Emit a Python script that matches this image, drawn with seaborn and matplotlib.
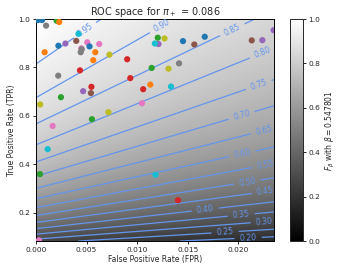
import numpy as np
import pandas as pd
import matplotlib
matplotlib.use("Agg")
import matplotlib.pyplot as plt
import seaborn as sns

# ---- data ----
pi_pos = 0.086
beta = 0.547801
x_max = 0.0235
y_min = 0.082

fpr = [0.0002, 0.0006, 0.00205, 0.0023, 0.0010, 0.00086, 0.00222, 0.00291,
       0.0042, 0.00398, 0.00507, 0.00625, 0.00529, 0.00448, 0.00452, 0.00442,
       0.00586, 0.00566, 0.00726, 0.00435, 0.0022, 0.00247, 0.00042, 0.00466,
       0.00548, 0.00543, 0.00553, 0.00716, 0.00165, 0.00901, 0.00932, 0.01143,
       0.01059, 0.01129, 0.01047, 0.01203, 0.0121, 0.01174, 0.0127, 0.01309,
       0.01334, 0.01452, 0.01564, 0.01413, 0.01667, 0.02131, 0.02236, 0.02347,
       0.00116, 0.0004, 0.0118, 0.01403, 0.0003]
tpr = [0.996, 0.996, 0.993, 0.988, 0.973, 0.863, 0.890, 0.899,
       0.939, 0.910, 0.904, 0.897, 0.887, 0.879, 0.875, 0.863,
       0.863, 0.830, 0.853, 0.788, 0.766, 0.677, 0.647, 0.702,
       0.720, 0.694, 0.586, 0.615, 0.558, 0.834, 0.756, 0.798,
       0.710, 0.729, 0.652, 0.923, 0.897, 0.899, 0.920, 0.795,
       0.721, 0.909, 0.895, 0.817, 0.927, 0.912, 0.913, 0.954,
       0.462, 0.359, 0.356, 0.251, 0.085]
color_idx = [0, 0, 2, 1, 7, 1, 0, 4,
             9, 5, 6, 6, 0, 6, 7, 7,
             1, 1, 8, 3, 7, 2, 8, 4,
             3, 5, 2, 8, 6, 3, 3, 2,
             3, 1, 6, 2, 4, 9, 8, 8,
             9, 0, 5, 7, 0, 5, 4, 4,
             9, 2, 9, 3, 6]
levels = [0.05, 0.10, 0.15, 0.20, 0.25, 0.30, 0.35, 0.40, 0.45, 0.50,
          0.55, 0.60, 0.65, 0.70, 0.75, 0.80, 0.85, 0.90, 0.95]

# label anchor positions (layout only)
label_pos = [(0.00484, 0.955), (0.01245, 0.970), (0.01936, 0.958),
             (0.02233, 0.862), (0.02193, 0.737), (0.02025, 0.611),
             (0.02243, 0.549), (0.02035, 0.446), (0.02263, 0.400),
             (0.02085, 0.330), (0.02263, 0.288), (0.0167, 0.218),
             (0.02025, 0.197), (0.02253, 0.168), (0.01867, 0.127),
             (0.02095, 0.098)]

df = pd.DataFrame({"FPR": fpr, "TPR": tpr, "c": color_idx})

# ---- F-beta surface ----
b2 = beta ** 2
xs = np.linspace(0, x_max, 300)
ys = np.linspace(y_min, 1.0, 300)
X, Y = np.meshgrid(xs, ys)
F = (1 + b2) * pi_pos * Y / (pi_pos * Y + b2 * pi_pos + (1 - pi_pos) * X)

sns.set_style("ticks")
plt.rcParams["font.family"] = ["DejaVu Sans"]
plt.rcParams["axes.linewidth"] = 0.7
plt.rcParams["xtick.major.width"] = 0.7
plt.rcParams["ytick.major.width"] = 0.7
plt.rcParams["xtick.major.size"] = 2.5
plt.rcParams["ytick.major.size"] = 2.5

fig = plt.figure(figsize=(3.39, 2.73), dpi=100)
ax = fig.add_axes([0.106, 0.117, 0.702, 0.813])
cax = fig.add_axes([0.855, 0.117, 0.038, 0.813])

im = ax.imshow(F, origin="lower", extent=[0, x_max, y_min, 1.0],
               aspect="auto", cmap="gray", vmin=0, vmax=1)
cs = ax.contour(X, Y, F, levels=levels, colors="cornflowerblue", linewidths=0.9)
ax.clabel(cs, inline=True, fontsize=5.6, fmt="%.2f", manual=label_pos)

sns.scatterplot(data=df, x="FPR", y="TPR", hue="c", palette="tab10",
                hue_norm=(0, 9), s=20, linewidth=0, legend=False, ax=ax,
                zorder=5, clip_on=True)
ax.collections[-1].set_facecolor([plt.cm.tab10(i) for i in color_idx])

ax.set_xlim(0, x_max)
ax.set_ylim(y_min, 1.0)
ax.set_xticks([0.0, 0.005, 0.010, 0.015, 0.020])
ax.set_yticks([0.2, 0.4, 0.6, 0.8, 1.0])
ax.tick_params(labelsize=5.3, pad=1.5)
ax.set_xlabel("False Positive Rate (FPR)", fontsize=5.5, labelpad=2)
ax.set_ylabel("True Positive Rate (TPR)", fontsize=5.5, labelpad=2)
ax.set_title(r"ROC space for $\pi_+$ = 0.086", fontsize=7, pad=3)
for s in ax.spines.values():
    s.set_visible(True)
    s.set_color("black")

cb = fig.colorbar(im, cax=cax)
cb.set_ticks([0.0, 0.2, 0.4, 0.6, 0.8, 1.0])
cb.ax.tick_params(labelsize=5.3, pad=1.5, width=0.7, length=2.5)
cb.outline.set_linewidth(0.7)
cb.set_label(r"$F_\beta$ with $\beta = 0.547801$", fontsize=5.5, labelpad=3)

fig.savefig("out.png", dpi=100)
